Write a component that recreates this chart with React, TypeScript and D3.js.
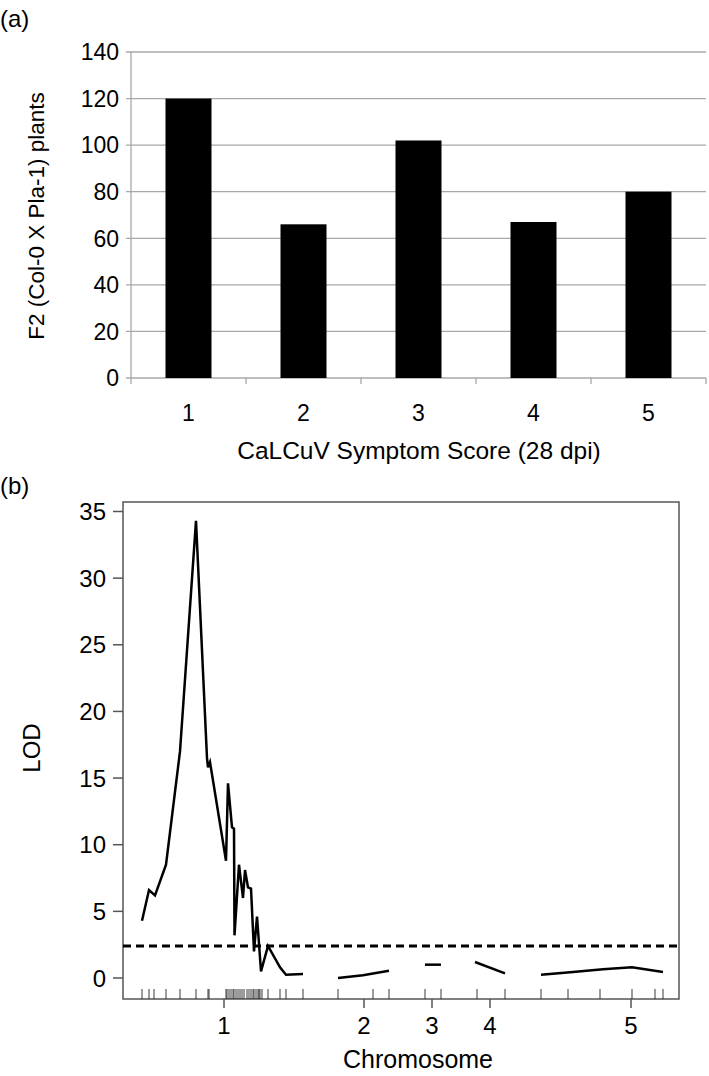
import * as d3 from "d3";

const FONT = "'Liberation Sans', Arial, Helvetica, sans-serif";

// panel (a): symptom score distribution
const SCORES = ["1", "2", "3", "4", "5"];
const PLANTS = [120, 66, 102, 67, 80];
const A_TICKS = [0, 20, 40, 60, 80, 100, 120, 140];

// panel (b): LOD scan, position along genome (plot units) and LOD
const CHR1 = [
  [19, 4.3], [26, 6.6], [32, 6.2], [43, 8.5], [57, 17.0], [73, 34.3], [84, 16.5],
  [85, 15.8], [87, 16.2], [103, 8.8], [105, 14.6], [109, 11.3], [111, 11.2],
  [111.5, 3.2], [116, 8.5], [120, 6.0], [122, 8.1], [125, 6.8], [128, 6.7],
  [131, 2.0], [134, 4.6], [135, 3.6], [138, 0.5], [145, 2.4], [157, 0.8],
  [163, 0.25], [180, 0.3],
];
const CHR2 = [[215, 0.0], [240, 0.2], [266, 0.55]];
const CHR3 = [[302, 1.0], [318, 1.0]];
const CHR4 = [[352, 1.2], [382, 0.35]];
const CHR5 = [[418, 0.25], [450, 0.45], [480, 0.65], [509, 0.8], [540, 0.45]];
const MARKERS = [
  19, 26, 31, 43, 57, 73, 85, 86, 103, 104, 106, 108, 110, 111, 113, 115, 117, 119,
  121, 124, 126, 128, 130, 131, 133, 135, 136, 137, 139, 145, 157, 163, 180,
  215, 250, 266, 302, 318, 354, 382, 418, 445, 477, 509, 532, 540,
];
const CHR_LABELS = ["1", "2", "3", "4", "5"];
const CHR_MIDS = [101, 241, 309, 367, 508];
const LOD_TICKS = [0, 5, 10, 15, 20, 25, 30, 35];
const THRESHOLD = 2.4;

function PanelA() {
  const x = d3.scaleBand().domain(SCORES).range([131, 706]).paddingInner(0.6).paddingOuter(0.3);
  const y = d3.scaleLinear().domain([0, 140]).range([378, 52]);
  const step = x.step();
  const bounds = d3.range(SCORES.length + 1).map((i) => 131 + i * step);
  return (
    <g>
      <text x={0} y={27} fontSize={24} fontFamily={FONT}>(a)</text>
      {A_TICKS.map((t) => (
        <g key={t}>
          <line x1={126} x2={706} y1={y(t)} y2={y(t)} stroke="#a8a8a8" strokeWidth={1.3} />
          <text x={119} y={y(t)} dy="0.36em" textAnchor="end" fontSize={23} fontFamily={FONT}>{t}</text>
        </g>
      ))}
      <line x1={131} x2={131} y1={52} y2={378} stroke="#a8a8a8" strokeWidth={1.3} />
      {bounds.map((b, i) => (
        <line key={i} x1={b} x2={b} y1={378} y2={384} stroke="#a8a8a8" strokeWidth={1.3} />
      ))}
      {SCORES.map((s, i) => (
        <g key={s}>
          <rect x={x(s)} y={y(PLANTS[i])} width={x.bandwidth()} height={y(0) - y(PLANTS[i])} fill="#000" />
          <text x={(x(s) as number) + x.bandwidth() / 2} y={421} textAnchor="middle" fontSize={23} fontFamily={FONT}>{s}</text>
        </g>
      ))}
      <text transform="translate(44,216) rotate(-90)" textAnchor="middle" fontSize={22.5} fontFamily={FONT}>
        F2 (Col-0 X Pla-1) plants
      </text>
      <text x={419} y={459} textAnchor="middle" fontSize={24.5} fontFamily={FONT}>
        CaLCuV Symptom Score (28 dpi)
      </text>
    </g>
  );
}

function PanelB() {
  const x = d3.scaleLinear().domain([0, 556]).range([123, 679]);
  const y = d3.scaleLinear().domain([0, 35]).range([978, 511.5]);
  const line = d3.line<number[]>().x((d) => x(d[0])).y((d) => y(d[1]));
  const chrs = [CHR1, CHR2, CHR3, CHR4, CHR5];
  const axisCol = "#555";
  return (
    <g>
      <text x={0} y={494} fontSize={24} fontFamily={FONT}>(b)</text>
      <rect x={123} y={502} width={556} height={497} fill="none" stroke={axisCol} strokeWidth={1.5} />
      {LOD_TICKS.map((t) => (
        <g key={t}>
          <line x1={113} x2={123} y1={y(t)} y2={y(t)} stroke={axisCol} strokeWidth={1.5} />
          <text x={106} y={y(t)} dy="0.36em" textAnchor="end" fontSize={24} fontFamily={FONT}>{t}</text>
        </g>
      ))}
      {CHR_MIDS.map((m, i) => (
        <g key={i}>
          <line x1={x(m)} x2={x(m)} y1={999} y2={1008} stroke={axisCol} strokeWidth={1.5} />
          <text x={x(m)} y={1034} textAnchor="middle" fontSize={24} fontFamily={FONT}>{CHR_LABELS[i]}</text>
        </g>
      ))}
      {MARKERS.map((m, i) => (
        <line key={i} x1={x(m)} x2={x(m)} y1={989} y2={999} stroke="#222" strokeWidth={0.9} />
      ))}
      <line x1={123} x2={679} y1={y(THRESHOLD)} y2={y(THRESHOLD)} stroke="#000" strokeWidth={3} strokeDasharray="8,5" />
      {chrs.map((c, i) => (
        <path key={i} d={line(c) as string} fill="none" stroke="#000" strokeWidth={2.5} strokeLinejoin="miter" />
      ))}
      <text transform="translate(40,748) rotate(-90)" textAnchor="middle" fontSize={24} fontFamily={FONT}>LOD</text>
      <text x={418} y={1068} textAnchor="middle" fontSize={25} fontFamily={FONT}>Chromosome</text>
    </g>
  );
}

export default function App() {
  return (
    <svg width={709} height={1076} style={{ position: "absolute", left: 0, top: 0, background: "#fff" }}>
      <PanelA />
      <PanelB />
    </svg>
  );
}
